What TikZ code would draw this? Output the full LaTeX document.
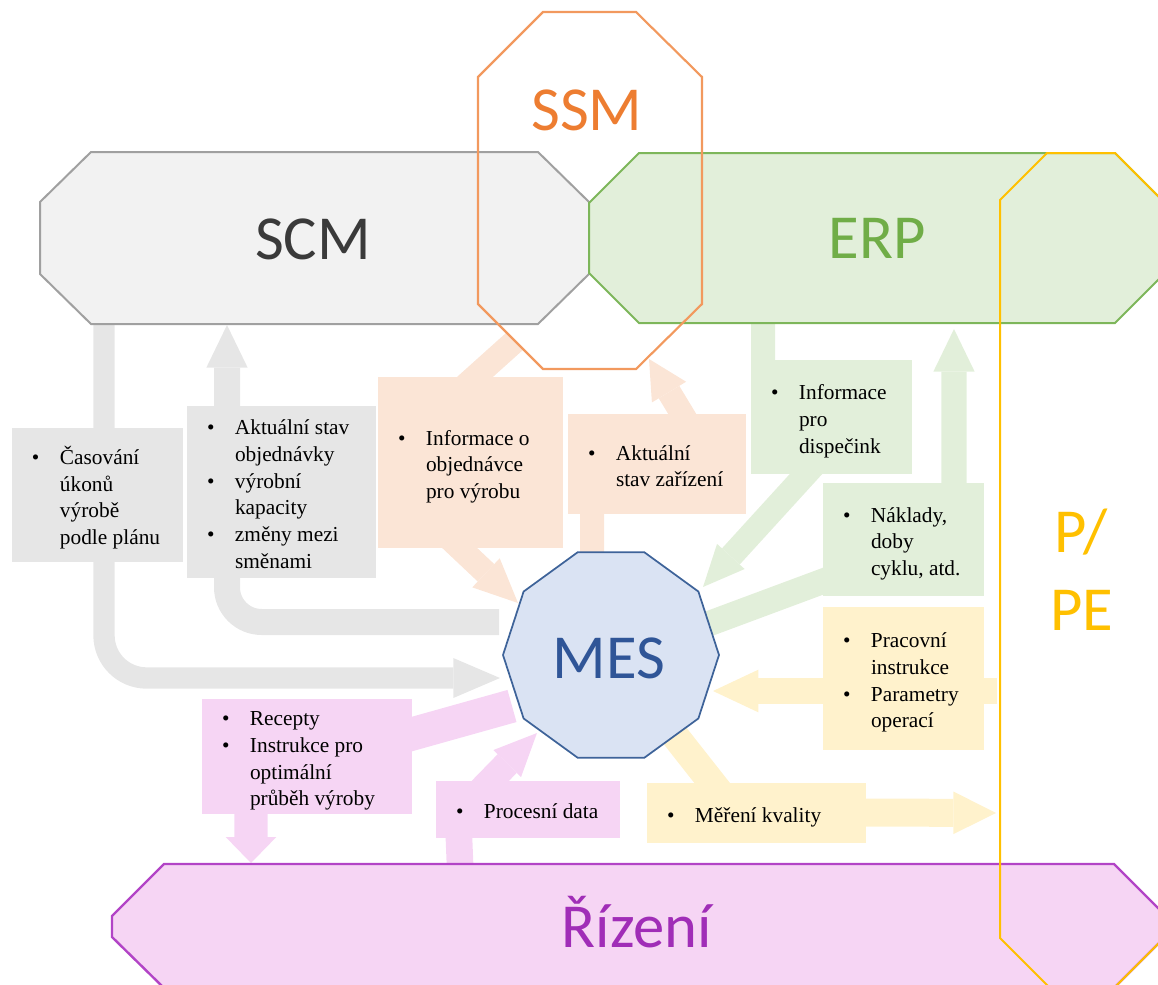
\documentclass[tikz,border=0pt]{standalone}
\usepackage{fontspec}
\setmainfont{Liberation Serif}
\newfontfamily\calibri{Carlito}
\usetikzlibrary{arrows.meta,shapes.geometric}

\definecolor{scmfill}{HTML}{F2F2F2}
\definecolor{scmline}{HTML}{A0A0A0}
\definecolor{scmtext}{HTML}{3A3A3A}
\definecolor{grayflow}{HTML}{E6E6E6}
\definecolor{ssmline}{HTML}{F2995E}
\definecolor{ssmtext}{HTML}{ED7D31}
\definecolor{peach}{HTML}{FBE5D6}
\definecolor{erpfill}{HTML}{E2EFDA}
\definecolor{erpline}{HTML}{7DB65A}
\definecolor{erptext}{HTML}{70AD47}
\definecolor{ppeline}{HTML}{FFC000}
\definecolor{lemon}{HTML}{FFF2CC}
\definecolor{pink}{HTML}{F6D5F4}
\definecolor{rizline}{HTML}{B244C6}
\definecolor{riztext}{HTML}{A02DB7}
\definecolor{mesfill}{HTML}{DAE3F3}
\definecolor{mesline}{HTML}{3E6399}
\definecolor{mestext}{HTML}{2F5597}

% bullet list of a box: #1 = width of the text column
\newcommand{\blist}[2]{\raisebox{-3pt}[\height][\depth]{\begin{tabular}{@{\hspace{15pt}}p{21pt}@{}p{#1}@{}}#2\end{tabular}}}

\tikzset{
  bighead/.style 2 args={arrows={-{Triangle[length=#1,width=#2,line width=0pt]}}},
  flow/.style={line join=round},
  infobox/.style={inner sep=0pt, font=\fontsize{16}{20}\selectfont},
  bigtitle/.style={font=\calibri\fontsize{47}{47}\selectfont, anchor=base, inner sep=0pt},
}

\begin{document}
\begin{tikzpicture}[x=0.75pt,y=0.75pt,yscale=-1,xscale=1]
\useasboundingbox (0,0) rectangle (1158,985);
\clip (0,0) rectangle (1158,985);

% end points of the flows
\coordinate (scmA) at (104,324);
\coordinate (mesA) at (500,678);
\coordinate (mesB) at (499,622);
\coordinate (scmB) at (227,325);
\coordinate (ssmC) at (515,341);
\coordinate (mesC) at (518,603);
\coordinate (mesD) at (592,558);
\coordinate (ssmD) at (649,359);
\coordinate (erpE) at (763,323);
\coordinate (mesE) at (703,587);
\coordinate (mesF) at (708,624);
\coordinate (erpF) at (954,329);
\coordinate (ppeG) at (997,691);
\coordinate (mesG) at (713,691);
\coordinate (mesH) at (672,732);
\coordinate (ppeH) at (996,813);
\coordinate (mesI) at (512,706);
\coordinate (rizI) at (251,863);
\coordinate (rizJ) at (460,864);
\coordinate (mesJ) at (537,733);

% Flows (under the boxes)
\draw[flow, grayflow, line width=16pt, rounded corners=32pt, bighead={35pt}{30pt}] (scmA) -- (104,678) -- (mesA);
\draw[flow, grayflow, line width=19.5pt, rounded corners=26pt, bighead={32pt}{31pt}] (mesB) -- (227,622) -- (scmB);
\draw[flow, peach, line width=18pt, bighead={33pt}{30pt}] (ssmC) -- (466,385) -- (430,520) -- (mesC);
\draw[flow, peach, line width=18pt, bighead={29pt}{30pt}] (mesD) -- (592,480) -- (698,440) -- (ssmD);
\draw[flow, erpfill, line width=18pt, bighead={31pt}{28pt}] (erpE) -- (763,400) -- (837,440) -- (mesE);
\draw[flow, erpfill, line width=19pt, bighead={32pt}{31pt}] (mesF) -- (880,560) -- (954,545) -- (erpF);
\draw[flow, lemon, line width=20pt, bighead={34pt}{32pt}] (ppeG) -- (mesG);
\draw[flow, lemon, line width=21pt, bighead={32pt}{32pt}] (mesH) -- (735,812) -- (ppeH);
\draw[flow, pink, line width=25pt, bighead={19.5pt}{38pt}] (mesI) -- (330,757) -- (251,760) -- (rizI);
\draw[flow, pink, line width=20pt, bighead={32pt}{29pt}] (rizJ) -- (458,814) -- (mesJ);

% SCM
\draw[fill=scmfill, draw=scmline, line width=1.5pt] (91,152) -- (538,152) -- (589,202) -- (589,274) -- (538,324) -- (91,324) -- (40,274) -- (40,202) -- cycle;
% ERP
\draw[fill=erpfill, draw=erpline, line width=1.5pt] (639,153) -- (1115,153) -- (1166,204) -- (1166,272) -- (1115,323) -- (639,323) -- (589,273) -- (589,203) -- cycle;
% Rizeni
\draw[fill=pink, draw=rizline, line width=1.8pt] (164,864) -- (1114,864) -- (1165,915) -- (1165,937) -- (1114,988) -- (164,988) -- (112,937) -- (112,916) -- cycle;
% MES
\node[regular polygon, regular polygon sides=10, minimum size=162pt, inner sep=0pt, fill=mesfill, draw=mesline, line width=1.3pt] (messhape) at (611,655) {};

% Boxes
\node[infobox, fill=grayflow, minimum width=128.25pt, minimum height=100.5pt] (casovani) at (97.5,495)
  {\blist{92.25pt}{\textbullet & Časování\\ & úkonů\\ & výrobě\\ & podle plánu}};
\node[infobox, fill=grayflow, minimum width=141.75pt, minimum height=129pt] (stav) at (281.5,492)
  {\blist{105.75pt}{\textbullet & Aktuální stav\\ & objednávky\\ \textbullet & výrobní\\ & kapacity\\ \textbullet & změny mezi\\ & směnami}};
\node[infobox, fill=peach, minimum width=138.75pt, minimum height=128.25pt] (objednavka) at (470.5,462.5)
  {\blist{102.75pt}{\textbullet & Informace o\\ & objednávce\\ & pro výrobu}};
\node[infobox, fill=peach, minimum width=133.5pt, minimum height=75pt] (zarizeni) at (657,464)
  {\blist{97.5pt}{\textbullet & Aktuální\\ & stav zařízení}};
\node[infobox, fill=erpfill, minimum width=120.75pt, minimum height=85.5pt] (dispecink) at (831.5,417)
  {\blist{84.75pt}{\textbullet & Informace\\ & pro\\ & dispečink}};
\node[infobox, fill=erpfill, minimum width=120.75pt, minimum height=84.75pt] (naklady) at (903.5,539.5)
  {\blist{84.75pt}{\textbullet & Náklady,\\ & doby\\ & cyklu, atd.}};
\node[infobox, fill=lemon, minimum width=120.75pt, minimum height=107.25pt] (instrukce) at (903.5,678.5)
  {\blist{84.75pt}{\textbullet & Pracovní\\ & instrukce\\ \textbullet & Parametry\\ & operací}};
\node[infobox, fill=lemon, minimum width=164.25pt, minimum height=45pt] (kvalita) at (756.5,813)
  {\blist{128.25pt}{\textbullet & Měření kvality}};
\node[infobox, fill=pink, minimum width=157.5pt, minimum height=86.25pt] (recepty) at (307,756.5)
  {\blist{121.5pt}{\textbullet & Recepty\\ \textbullet & Instrukce pro\\ & optimální\\ & průběh výroby}};
\node[infobox, fill=pink, minimum width=138pt, minimum height=42.75pt] (procesni) at (528,809.5)
  {\blist{102pt}{\textbullet & Procesní data}};

% SSM outline
\draw[draw=ssmline, line width=1.6pt] (543,12) -- (636,12) -- (702,77) -- (702,304) -- (636,369) -- (543,369) -- (478,304) -- (478,77) -- cycle;
% P/PE outline
\draw[draw=ppeline, line width=1.5pt] (1047,153) -- (1115,153) -- (1165,203) -- (1165,937) -- (1112,990) -- (1052,990) -- (1000,938) -- (1000,200) -- cycle;

% Titles
\node[bigtitle, text=scmtext] (scm) at (313,259) {SCM};
\node[bigtitle, text=erptext] (erp) at (877,258) {ERP};
\node[bigtitle, text=ssmtext] (ssm) at (587,130) {SSM};
\node[bigtitle, text=mestext] (mes) at (609,678) {MES};
\node[bigtitle, text=riztext] (rizeni) at (637,947) {Řízení};
\node[bigtitle, text=ppeline, anchor=base west] (ppe) at (1054,552) {P/};
\node[bigtitle, text=ppeline, anchor=base west] (ppe2) at (1050,630) {PE};
\end{tikzpicture}
\end{document}
